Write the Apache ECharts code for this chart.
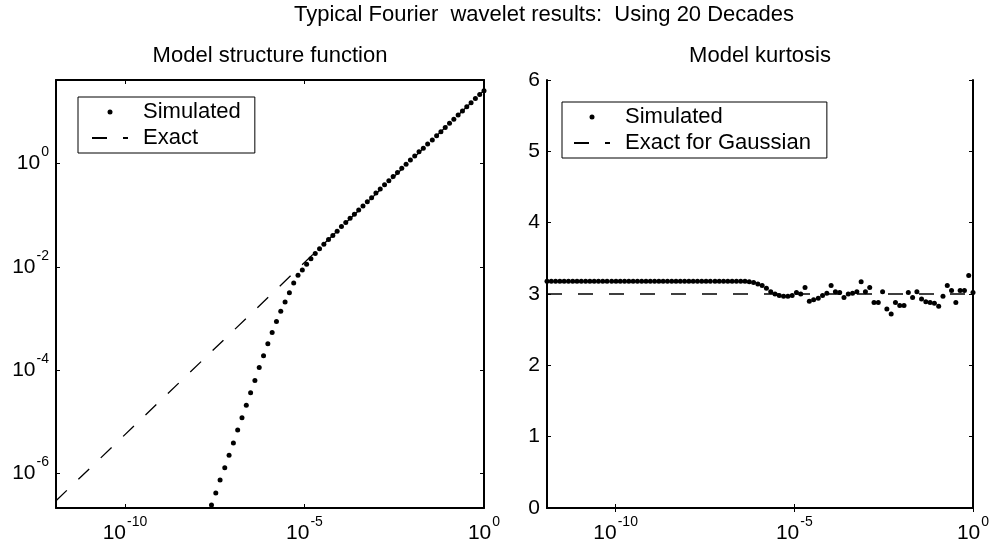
<!DOCTYPE html>
<html><head><meta charset="utf-8">
<script src="https://cdn.jsdelivr.net/npm/echarts@6/dist/echarts.min.js"></script>
<style>html,body{margin:0;padding:0;background:#fff}#c{width:993px;height:546px}</style>
</head><body><div id="c"></div>
<script>
// log10 of the lag values (shared by both panels), ascending
const xLog = [
-11.92,-11.80,-11.68,-11.56,-11.44,-11.32,-11.20,-11.08,-10.96,-10.84,
-10.72,-10.60,-10.48,-10.36,-10.24,-10.11,-9.99,-9.87,-9.75,-9.63,
-9.51,-9.39,-9.27,-9.15,-9.03,-8.91,-8.79,-8.67,-8.55,-8.43,
-8.31,-8.19,-8.07,-7.95,-7.83,-7.71,-7.59,-7.47,-7.35,-7.22,
-7.10,-6.98,-6.86,-6.74,-6.62,-6.50,-6.38,-6.26,-6.14,-6.02,
-5.90,-5.78,-5.66,-5.54,-5.42,-5.30,-5.18,-5.06,-4.94,-4.82,
-4.70,-4.58,-4.46,-4.33,-4.21,-4.09,-3.97,-3.85,-3.73,-3.61,
-3.49,-3.37,-3.25,-3.13,-3.01,-2.89,-2.77,-2.65,-2.53,-2.41,
-2.29,-2.17,-2.05,-1.93,-1.81,-1.69,-1.57,-1.44,-1.32,-1.20,
-1.08,-0.96,-0.84,-0.72,-0.60,-0.48,-0.36,-0.24,-0.12,0
];
// structure function (log10), visible points start at xLog index 36
const sfStart = 36;
const sfLog = [
-6.61,-6.38,-6.13,-5.89,-5.65,-5.41,-5.16,-4.92,-4.68,-4.44,
-4.20,-3.95,-3.72,-3.49,-3.27,-3.06,-2.86,-2.68,-2.50,-2.31,
-2.16,-2.06,-1.95,-1.84,-1.74,-1.65,-1.56,-1.47,-1.39,-1.31,
-1.22,-1.14,-1.06,-0.98,-0.90,-0.82,-0.74,-0.66,-0.57,-0.49,
-0.41,-0.33,-0.25,-0.17,-0.09,-0.01,0.07,0.15,0.23,0.30,
0.38,0.46,0.54,0.62,0.70,0.78,0.86,0.94,1.02,1.10,
1.18,1.26,1.34,1.41
];
// exact structure function line (log10 x, log10 y) endpoints
const exactXLog = [-11.92, 0];
const exactYLog = [-6.53, 1.42];
// kurtosis values, same x grid
const kurt = [
3.18,3.18,3.18,3.18,3.18,3.18,3.18,3.18,3.18,3.18,
3.18,3.18,3.18,3.18,3.18,3.18,3.18,3.18,3.18,3.18,
3.18,3.18,3.18,3.18,3.18,3.18,3.18,3.18,3.18,3.18,
3.18,3.18,3.18,3.18,3.18,3.18,3.18,3.18,3.18,3.18,
3.18,3.18,3.18,3.18,3.18,3.18,3.18,
3.17,3.16,3.14,3.12,3.08,3.03,3.00,2.98,2.97,2.97,
2.98,3.02,3.00,3.09,2.90,2.92,2.94,2.98,3.01,3.12,
3.03,3.02,2.95,3.00,3.01,3.03,3.17,3.03,3.09,2.88,
2.88,3.03,2.79,2.72,2.88,2.84,2.84,3.02,2.95,3.03,
2.93,2.89,2.88,2.87,2.83,2.97,3.12,3.05,2.88,3.05,
3.05,3.26,3.02
];
const gaussXLog = [-11.92, 0];
const gaussY = [3, 3];
// axis ticks
const xTicks = [1e-10, 1e-5, 1];
const yTicksLeft = [1e-6, 1e-4, 1e-2, 1];
const yTicksRight = [0, 1, 2, 3, 4, 5, 6];

const FONT = '"Liberation Sans", Arial, Helvetica, sans-serif';
const p10 = v => Math.pow(10, v);

const sfData = sfLog.map((v, i) => [p10(xLog[sfStart + i]), p10(v)]);
const exactData = exactXLog.map((v, i) => [p10(v), p10(exactYLog[i])]);
const kurtData = kurt.map((v, i) => [p10(xLog[i]), v]);
const gaussData = gaussXLog.map((v, i) => [p10(v), gaussY[i]]);

const rich = {
  b: {fontSize: 21, fontFamily: FONT, color: '#000'},
  s: {fontSize: 14, fontFamily: FONT, color: '#000', padding: [0, 0, 22, 1]}
};
const powFmt = v => '{b|10}{s|' + Math.round(Math.log10(v)) + '}';

const lineStyleAxis = {color: '#000', width: 2};
const tickStyle = {color: '#000', width: 1};
function logX(idx, pos, show) {
  return {
    type: 'log', gridIndex: idx, position: pos,
    min: p10(xLog[0]), max: 1,
    axisLine: {show: true, lineStyle: lineStyleAxis},
    axisTick: {show: true, inside: true, length: 4, customValues: xTicks, lineStyle: tickStyle},
    axisLabel: {show: show, customValues: xTicks, formatter: powFmt, rich: rich, margin: 7, showMinLabel: true, showMaxLabel: true},
    splitLine: {show: false}, minorTick: {show: false}
  };
}
function logY(pos, show) {
  return {
    type: 'log', gridIndex: 0, position: pos,
    min: p10(-6.67), max: p10(1.62),
    axisLine: {show: true, lineStyle: lineStyleAxis},
    axisTick: {show: true, inside: true, length: 4, customValues: yTicksLeft, lineStyle: tickStyle},
    axisLabel: {show: show, customValues: yTicksLeft, formatter: powFmt, rich: rich, margin: 7, align: 'right'},
    splitLine: {show: false}, minorTick: {show: false}
  };
}
function linY(pos, show) {
  return {
    type: 'value', gridIndex: 1, position: pos,
    min: 0, max: 6, interval: 1,
    axisLine: {show: true, lineStyle: lineStyleAxis},
    axisTick: {show: true, inside: true, length: 4, customValues: yTicksRight, lineStyle: tickStyle},
    axisLabel: {show: show, customValues: yTicksRight, color: '#000', fontSize: 21, fontFamily: FONT, margin: 7},
    splitLine: {show: false}
  };
}

const legendBase = {
  orient: 'vertical', selectedMode: false,
  itemWidth: 36, itemHeight: 5, itemGap: 4,
  backgroundColor: '#fff', borderColor: '#000', borderWidth: 1, borderRadius: 0,
  textStyle: {color: '#000', fontSize: 22, fontFamily: FONT, lineHeight: 22, padding: [0, 0, 0, 10]}
};

const option = {
  animation: false,
  backgroundColor: '#fff',
  textStyle: {fontFamily: FONT},
  graphic: [
    {type: 'text', x: 544, y: 15, style: {text: 'Typical Fourier  wavelet results:  Using 20 Decades', font: '22px ' + FONT, fill: '#000', align: 'center', verticalAlign: 'middle'}},
    {type: 'text', x: 270, y: 56, style: {text: 'Model structure function', font: '22px ' + FONT, fill: '#000', align: 'center', verticalAlign: 'middle'}},
    {type: 'text', x: 760, y: 56, style: {text: 'Model kurtosis', font: '22px ' + FONT, fill: '#000', align: 'center', verticalAlign: 'middle'}}
  ],
  grid: [
    {left: 56, top: 80, width: 428, height: 428},
    {left: 547, top: 80, width: 426, height: 428}
  ],
  xAxis: [logX(0, 'bottom', true), logX(0, 'top', false), logX(1, 'bottom', true), logX(1, 'top', false)],
  yAxis: [logY('left', true), logY('right', false), linY('left', true), linY('right', false)],
  legend: [
    Object.assign({}, legendBase, {left: 78, top: 97, padding: [4, 14, 4, 13],
      data: [{name: 'Simulated'}, {name: 'Exact', itemStyle: {opacity: 0}}]}),
    Object.assign({}, legendBase, {left: 562, top: 102, padding: [4, 16, 4, 11],
      data: [{name: 'Simulated'}, {name: 'Exact for Gaussian', itemStyle: {opacity: 0}}]})
  ],
  series: [
    {name: 'Simulated', type: 'scatter', xAxisIndex: 0, yAxisIndex: 0, data: sfData,
     symbol: 'circle', symbolSize: 5, itemStyle: {color: '#000', opacity: 1}, clip: true, z: 2},
    {name: 'Exact', type: 'line', xAxisIndex: 0, yAxisIndex: 0, data: exactData,
     symbol: 'none', showSymbol: false, itemStyle: {color: '#000'},
     lineStyle: {color: '#000', width: 1.3, type: [15, 16]}, clip: true, z: 3},
    {name: 'Simulated', type: 'scatter', xAxisIndex: 2, yAxisIndex: 2, data: kurtData,
     symbol: 'circle', symbolSize: 5, itemStyle: {color: '#000', opacity: 1}, clip: true, z: 2},
    {name: 'Exact for Gaussian', type: 'line', xAxisIndex: 2, yAxisIndex: 2, data: gaussData,
     symbol: 'none', showSymbol: false, itemStyle: {color: '#000'},
     lineStyle: {color: '#000', width: 1.3, type: [15, 16]}, clip: true, z: 3}
  ]
};
const chart = echarts.init(document.getElementById('c'), null, {renderer: 'canvas'});
chart.setOption(option);
</script>
</body></html>
